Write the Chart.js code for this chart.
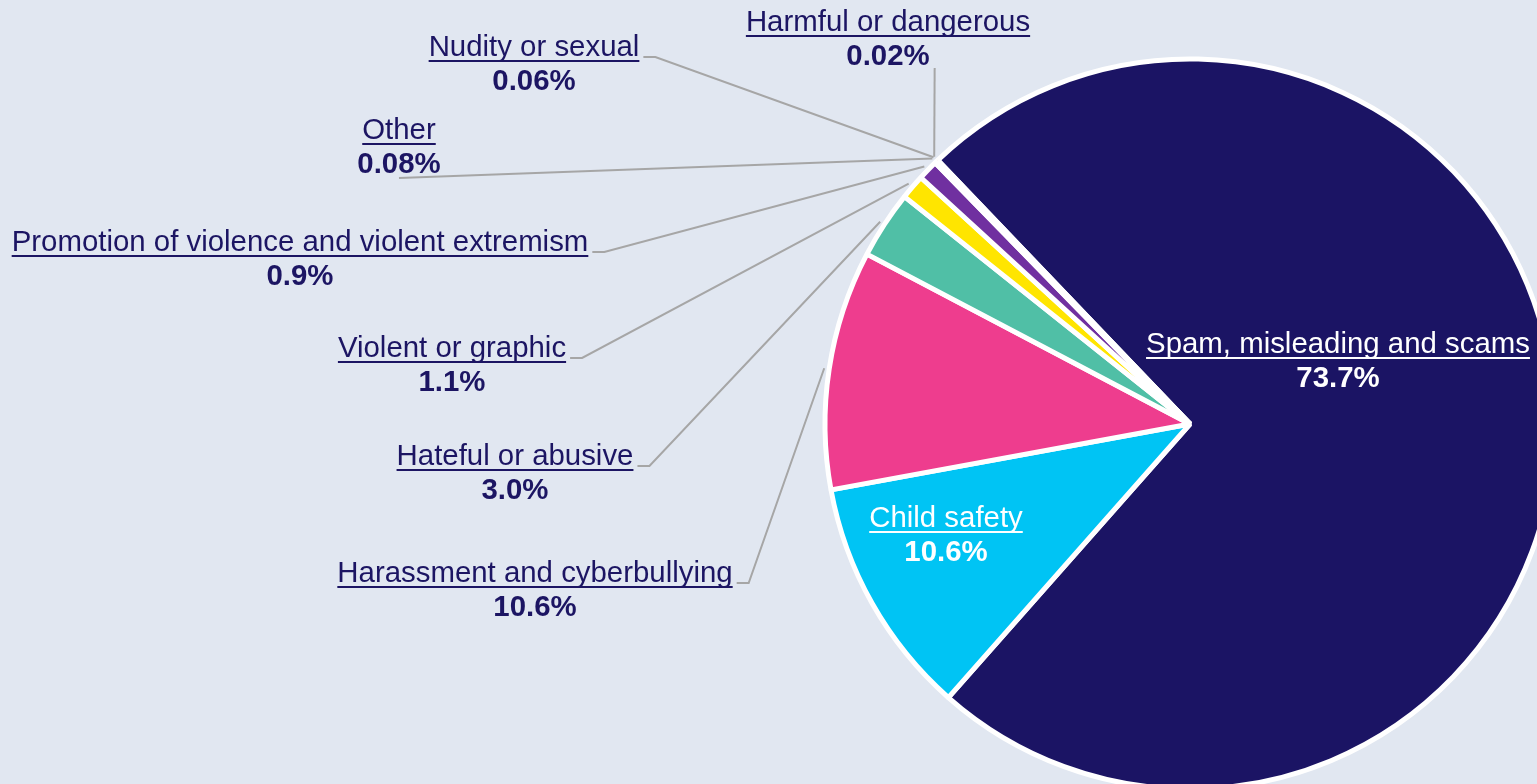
<!DOCTYPE html>
<html><head><meta charset="utf-8">
<script src="https://cdn.jsdelivr.net/npm/chart.js@4.4.1/dist/chart.umd.min.js"></script>
<style>
html,body{margin:0;padding:0;background:#e1e7f1;overflow:hidden}
#wrap{position:relative;width:1537px;height:784px}
</style></head>
<body><div id="wrap"><canvas id="c" width="1537" height="784"></canvas></div>
<script>
const categories = ['Spam, misleading and scams','Child safety','Harassment and cyberbullying','Hateful or abusive','Violent or graphic','Promotion of violence and violent extremism','Other','Nudity or sexual','Harmful or dangerous'];
const shares = [73.7, 10.6, 10.6, 3.0, 1.1, 0.9, 0.08, 0.06, 0.02];
const percentLabels = ['73.7%','10.6%','10.6%','3.0%','1.1%','0.9%','0.08%','0.06%','0.02%'];
const sliceColors = ['#1b1464','#00c4f4','#ee3d8e','#50bfa6','#ffe500','#7030a0','#a6a6a6','#f28e2b','#d62728'];

// label placement (text layout only)
const labelLayout = [
  {x:1338, y:353, inside:true},
  {x:946,  y:527, inside:true},
  {x:535,  y:582, leader:'right'},
  {x:515,  y:465, leader:'right'},
  {x:452,  y:357, leader:'right'},
  {x:300,  y:251, leader:'right'},
  {x:399,  y:139, leader:'below'},
  {x:534,  y:56,  leader:'right'},
  {x:888,  y:31,  leader:'pctRight'}
];
const FONT = '"Liberation Sans", Arial, sans-serif';
const FS = 29.4;

const labelPlugin = {
  id:'sliceLabels',
  afterDatasetsDraw(chart){
    const ctx = chart.ctx;
    const meta = chart.getDatasetMeta(0);
    meta.data.forEach((arc,i)=>{
      const L = labelLayout[i];
      const p = arc.getProps(['x','y','startAngle','endAngle','outerRadius'], true);
      const mid = (p.startAngle + p.endAngle)/2;
      ctx.save();
      ctx.font = FS + 'px ' + FONT;
      const w = ctx.measureText(categories[i]).width;
      ctx.font = 'bold ' + FS + 'px ' + FONT;
      const pw = ctx.measureText(percentLabels[i]).width;
      const color = L.inside ? '#ffffff' : '#1c1563';
      if (!L.inside) {
        const ex = p.x + Math.cos(mid)*(p.outerRadius+5);
        const ey = p.y + Math.sin(mid)*(p.outerRadius+5);
        ctx.strokeStyle = '#a6a6a6';
        ctx.lineWidth = 2;
        ctx.beginPath();
        if (L.leader === 'right') {
          const sx = L.x + w/2 + 4, sy = L.y + 1;
          ctx.moveTo(sx, sy); ctx.lineTo(sx+12, sy); ctx.lineTo(ex, ey);
        } else if (L.leader === 'below') {
          ctx.moveTo(L.x, L.y + 34 + 5); ctx.lineTo(ex, ey);
        } else {
          const sx = L.x + pw/2 + 5;
          ctx.moveTo(sx, L.y + 34 + 3); ctx.lineTo(ex, ey);
        }
        ctx.stroke();
      }
      ctx.fillStyle = color;
      ctx.textAlign = 'center';
      ctx.textBaseline = 'alphabetic';
      ctx.font = FS + 'px ' + FONT;
      ctx.fillText(categories[i], L.x, L.y);
      ctx.fillRect(L.x - w/2, L.y + 4, w, 2);
      ctx.font = 'bold ' + FS + 'px ' + FONT;
      ctx.fillText(percentLabels[i], L.x, L.y + 34);
      ctx.restore();
    });
  }
};

new Chart(document.getElementById('c'), {
  type:'pie',
  data:{
    labels: categories,
    datasets:[{
      data: shares,
      backgroundColor: sliceColors,
      borderColor:'#ffffff',
      borderWidth:5,
      hoverOffset:0,
      clip:false
    }]
  },
  options:{
    responsive:false,
    animation:false,
    events:[],
    rotation:-43.7,
    radius:365,
    layout:{padding:{left:843,right:0,top:64,bottom:0}},
    plugins:{legend:{display:false}, tooltip:{enabled:false}}
  },
  plugins:[labelPlugin]
});
</script>
</body></html>
